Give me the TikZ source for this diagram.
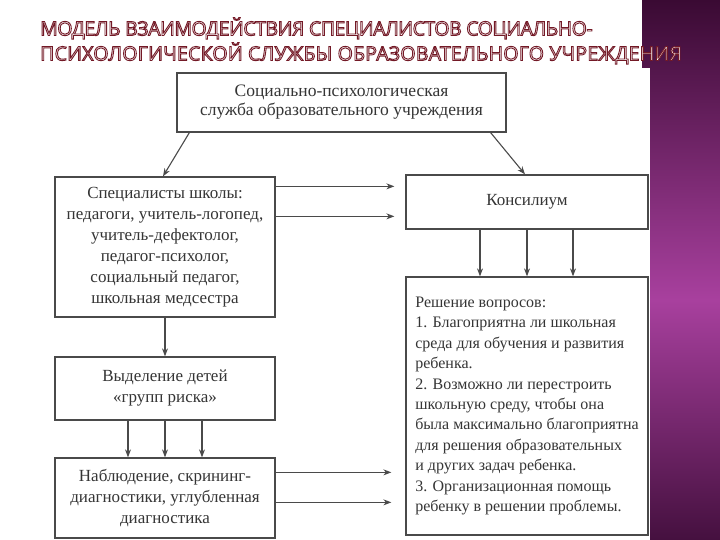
\documentclass[tikz,border=0pt]{standalone}
\usepackage{fontspec}
\setmainfont{Liberation Serif}
\newfontfamily\titlefont{Open Sans}
\usetikzlibrary{positioning, arrows.meta}
\definecolor{inkgray}{HTML}{353535}
\definecolor{framegray}{HTML}{4A4A4A}
\definecolor{plumtop}{HTML}{3A0A33}
\definecolor{plummid}{HTML}{A8409E}
\definecolor{plumbot}{HTML}{45103F}
% outlined title letters: fill white, stroke dark red
\newcommand{\hollow}[1]{\special{pdf:literal direct 2 Tr 0.9 w 0.45 0.1 0.15 RG}#1\special{pdf:literal direct 0 Tr}}

\begin{document}
\begin{tikzpicture}[
    x=1pt, y=-1pt,
    >={Stealth[length=8pt, width=6pt]},
    every node/.style={font=\fontsize{17}{21}\selectfont, text=inkgray},
    block/.style={draw=framegray, line width=1.3pt, align=center, inner sep=0pt},
    arr/.style={->, framegray, line width=1.1pt},
    heading/.style={font=\titlefont\fontsize{19.5}{25}\selectfont, text=white, anchor=base west, inner sep=0pt},
]
\useasboundingbox (0,0) rectangle (720,540);

% === Slide background: purple strip and scanned sheet ===
\shade[top color=plumtop, bottom color=plummid] (642,0) rectangle (720,300);
\shade[top color=plummid, bottom color=plumbot] (642,300) rectangle (720,540);
\fill[white] (40,68) rectangle (650,540);

% === Title ===
\node[heading] (title1) at (40,35.5) {\addfontfeature{LetterSpace=-2.5}\hollow{МОДЕЛЬ ВЗАИМОДЕЙСТВИЯ СПЕЦИАЛИСТОВ СОЦИАЛЬНО-}};
\node[heading] (title2) at (40,60.5) {\addfontfeature{LetterSpace=1.2}\hollow{ПСИХОЛОГИЧЕСКОЙ СЛУЖБЫ ОБРАЗОВАТЕЛЬНОГО УЧРЕЖДЕНИЯ}};

% === Boxes ===
\node[block, minimum width=329pt, minimum height=59pt, font=\fontsize{17.5}{19}\selectfont]
    (service) at (341.5,102.5) {Социально-психологическая\\служба образовательного учреждения};

\node[block, minimum width=220pt, minimum height=140pt]
    (staff) at (165,247) {Специалисты школы:\\педагоги, учитель-логопед,\\учитель-дефектолог,\\педагог-психолог,\\социальный педагог,\\школьная медсестра};

\node[block, minimum width=242pt, minimum height=54pt]
    (council) at (527,202) {Консилиум};

\node[block, minimum width=220pt, minimum height=63pt]
    (risk) at (165,388.5) {Выделение детей\\«групп риска»};

\node[block, minimum width=220pt, minimum height=80pt]
    (watch) at (165,498) {Наблюдение, скрининг-\\диагностики, углубленная\\диагностика};

\node[block, minimum width=242pt, minimum height=258pt, align=left, font=\fontsize{16}{20.4}\selectfont]
    (decide) at (527,406) {Решение вопросов:\\1. Благоприятна ли школьная\\среда для обучения и развития\\ребенка.\\2. Возможно ли перестроить\\школьную среду, чтобы она\\была максимально благоприятна\\для решения образовательных\\и других задач ребенка.\\3. Организационная помощь\\ребенку в решении проблемы.};

% === Arrows ===
\draw[arr] ([xshift=13pt]service.south west) -- ([xshift=-2pt]staff.north);
\draw[arr] ([xshift=-16pt]service.south east) -- ([xshift=-2pt]council.north);

\foreach \dy in {10,40} {
    \coordinate (staffout) at ([yshift=-\dy pt]staff.north east);
    \draw[arr, shorten >=11pt] (staffout) -- (staffout -| council.west);
}

\draw[arr] (staff) -- (risk);

\foreach \dx in {-37,0,37}
    \draw[arr] ([xshift=\dx pt]risk.south) -- ([xshift=\dx pt]watch.north);

\foreach \dx in {-47,0,46}
    \draw[arr] ([xshift=\dx pt]council.south) -- ([xshift=\dx pt]decide.north);

\foreach \dy in {15,45} {
    \coordinate (watchout) at ([yshift=-\dy pt]watch.north east);
    \draw[arr, shorten >=14pt] (watchout) -- (watchout -| decide.west);
}

\end{tikzpicture}
\end{document}
